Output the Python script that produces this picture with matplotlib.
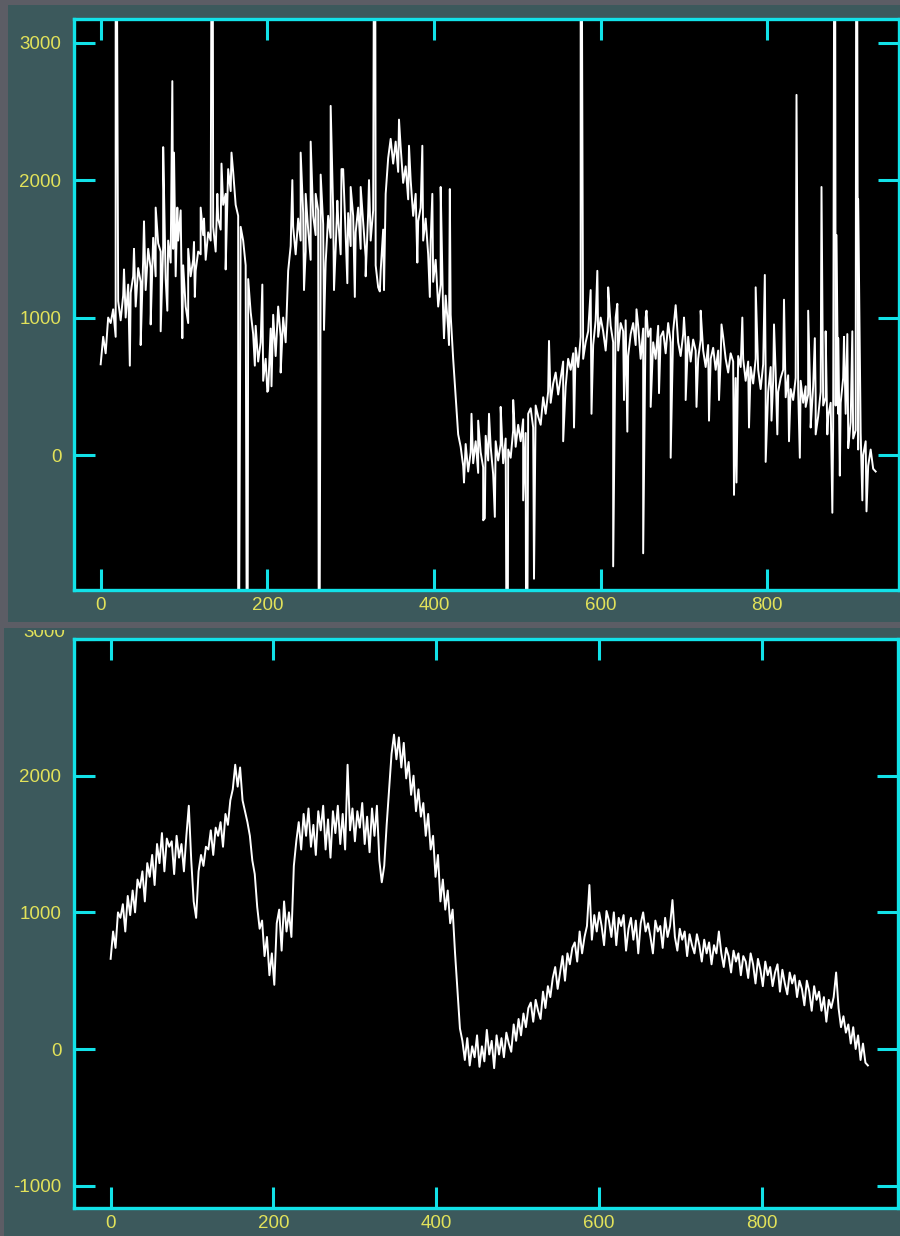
import numpy as np
import matplotlib
matplotlib.use('Agg')
from matplotlib import pyplot as plt
from matplotlib.patches import Rectangle
from matplotlib.transforms import Bbox, TransformedBbox, blended_transform_factory

# cleaned spectrum, one value every 3 channels (0..930)
channel = np.arange(0, 931, 3)
clean_counts = [
    660, 860, 740, 1000, 960, 1060, 860, 1120, 980, 1160,
    1000, 1240, 1180, 1300, 1080, 1360, 1260, 1420, 1200, 1500,
    1360, 1580, 1300, 1540, 1480, 1520, 1280, 1560, 1400, 1500,
    1300, 1560, 1780, 1380, 1080, 960, 1300, 1420, 1340, 1480,
    1460, 1600, 1420, 1620, 1560, 1660, 1480, 1720, 1640, 1820,
    1900, 2080, 1920, 2060, 1820, 1740, 1660, 1560, 1380, 1280,
    1040, 880, 940, 680, 820, 540, 700, 470, 920, 1020,
    720, 1080, 860, 1000, 820, 1340, 1520, 1660, 1460, 1720,
    1560, 1760, 1480, 1640, 1420, 1740, 1600, 1780, 1460, 1680,
    1400, 1740, 1580, 1780, 1500, 1720, 1460, 2080, 1600, 1760,
    1520, 1740, 1620, 1800, 1500, 1700, 1440, 1760, 1560, 1780,
    1380, 1220, 1340, 1640, 1900, 2160, 2300, 2120, 2280, 2060,
    2240, 1980, 2100, 1860, 2000, 1740, 1900, 1700, 1800, 1560,
    1720, 1460, 1560, 1260, 1420, 1080, 1240, 1020, 1160, 920,
    1020, 700, 420, 150, 60, -80, 80, -120, 20, -60,
    100, -130, 20, -90, 140, -40, 60, -140, 100, -40,
    80, -60, 120, 40, -20, 180, 60, 220, 100, 260,
    160, 300, 340, 200, 360, 280, 220, 420, 300, 460,
    380, 520, 600, 440, 560, 680, 500, 700, 620, 740,
    780, 640, 860, 700, 820, 900, 1200, 800, 980, 860,
    1000, 900, 760, 1010, 940, 820, 1000, 760, 960, 900,
    980, 720, 880, 960, 800, 940, 700, 920, 1000, 860,
    920, 820, 700, 940, 860, 900, 740, 960, 820, 900,
    1090, 820, 720, 880, 800, 860, 680, 840, 760, 700,
    840, 760, 640, 800, 700, 780, 620, 760, 700, 860,
    700, 600, 740, 680, 560, 720, 640, 700, 540, 680,
    640, 520, 700, 620, 480, 660, 580, 460, 640, 540,
    600, 460, 560, 620, 420, 580, 480, 400, 560, 480,
    540, 380, 500, 440, 320, 500, 420, 280, 460, 360,
    420, 280, 380, 200, 360, 300, 380, 560, 300, 160,
    240, 120, 180, 40, 160, 0, 100, -80, 40, -100,
    -120,
]

# cosmic-ray hits and bad pixels seen only in the raw spectrum (channel, counts)
cosmic = [
    (18, 6000), (28, 1350), (35, 650), (40, 1500), (48, 800), (52, 1700), (60, 950),
    (66, 1800), (72, 900), (75, 2240), (80, 1050), (86, 2720), (88, 2200), (92, 1800),
    (98, 850), (105, 1500), (112, 1550), (113, 1150), (120, 1800), (124, 1720),
    (134, 6000), (140, 1900), (145, 2120), (150, 1350), (157, 2200), (165, -3000),
    (176, -3000), (185, 650), (194, 1240), (200, 460), (205, 500), (216, 600),
    (230, 2000), (240, 2200), (244, 1200), (246, 1900), (252, 2280), (258, 1900),
    (262, -3000), (264, 2040), (268, 910), (276, 2540), (280, 1200), (284, 1850),
    (289, 2080), (296, 1250), (300, 1950), (305, 1150), (312, 1950), (318, 1300),
    (322, 2000), (329, 6000), (335, 1190), (340, 1200), (358, 2440), (370, 2250),
    (380, 1400), (386, 2250), (395, 1150), (398, 1900), (408, 1950), (412, 850),
    (418, 800), (419, 1935), (436, -200), (445, 300), (453, 250), (459, -475),
    (461, -460), (466, 300), (473, -450), (480, 350), (488, -3000), (495, 400),
    (507, -330), (511, -3000), (520, -900), (538, 830), (555, 100), (568, 200),
    (576, 6000), (589, 300), (596, 1340), (609, 1220), (615, -810), (620, 1100),
    (628, 400), (632, 170), (643, 1060), (651, -715), (655, 1050), (660, 350),
    (670, 450), (684, -20), (700, 1000), (702, 400), (715, 350), (720, 1050),
    (730, 250), (742, 400), (745, 950), (760, -290), (763, -200), (770, 1000),
    (778, 200), (786, 1220), (797, 1310), (798, -50), (805, 250), (808, 950),
    (812, 150), (820, 1130), (826, 100), (835, 2620), (839, -20), (846, 350),
    (849, 1050), (852, 200), (857, 850), (858, 150), (865, 1950), (870, 900),
    (872, 150), (878, -420), (881, 6000), (883, 1600), (885, 850), (887, -150),
    (892, 860), (896, 880), (897, 50), (902, 900), (907, 6000), (909, 1860),
    (914, -330), (919, -410),
]
spike_channel = [c for c, _ in cosmic]
spike_counts = [v for _, v in cosmic]

raw_x = np.concatenate([channel, spike_channel])
raw_y = np.concatenate([clean_counts, spike_counts])
order = np.argsort(raw_x, kind='stable')
raw_x = raw_x[order]
raw_y = raw_y[order]

gray = '#5c5d65'
slate = '#3c595c'
cyan = '#12e2e8'
yellow = '#e2e25a'
W, H = 900, 1236

plt.rcParams['font.family'] = ['Liberation Sans', 'DejaVu Sans']

fig = plt.figure(figsize=(W / 100, H / 100), dpi=100, facecolor=gray)

# the two screenshot panels
fig.patches.append(Rectangle((8 / W, (H - 622) / H), (900 - 8) / W, (622 - 5) / H,
                             transform=fig.transFigure, facecolor=slate, edgecolor='none', zorder=-5))
fig.patches.append(Rectangle((4 / W, 0), (900 - 4) / W, (H - 628) / H,
                             transform=fig.transFigure, facecolor=slate, edgecolor='none', zorder=-5))

ax1 = fig.add_axes([74 / W, (H - 590) / H, (899 - 74) / W, (590 - 19) / H], zorder=2)
ax2 = fig.add_axes([74 / W, (H - 1208) / H, (898 - 74) / W, (1208 - 639) / H], zorder=2)


def style(ax):
    ax.set_facecolor('black')
    for s in ax.spines.values():
        s.set_color(cyan)
        s.set_linewidth(2.4)
    ax.tick_params(direction='in', length=15, width=2.2, color=cyan,
                   top=True, right=True, labelcolor=yellow, labelsize=13.5)
    ax.tick_params(axis='y', pad=9)
    ax.tick_params(axis='x', pad=5)


ax1.plot(raw_x, raw_y, color='white', linewidth=1.4)
ax1.set_xlim(-32, 958)
ax1.set_ylim(-982, 3172)
ax1.set_xticks([0, 200, 400, 600, 800])
ax1.set_yticks([0, 1000, 2000, 3000])
style(ax1)

ax2.plot(channel, clean_counts, color='white', linewidth=1.4)
ax2.set_xlim(-45, 967)
ax2.set_ylim(-1163, 3000)
ax2.set_xticks([0, 200, 400, 600, 800])
ax2.set_yticks([-1000, 0, 1000, 2000, 3000])
ax2.set_yticklabels(['-1000', '0', '1000', '2000', ''])
style(ax2)

# top label of the lower panel is cut by the panel edge
t = ax2.text(-0.011, 3045, '3000', transform=blended_transform_factory(ax2.transAxes, ax2.transData),
             ha='right', va='center', color=yellow, fontsize=13.5, clip_on=True)
t.set_clip_box(TransformedBbox(Bbox.from_extents(0, 0, 1, (H - 630) / H), fig.transFigure))

plt.savefig('out.png', dpi=100, facecolor=gray)
